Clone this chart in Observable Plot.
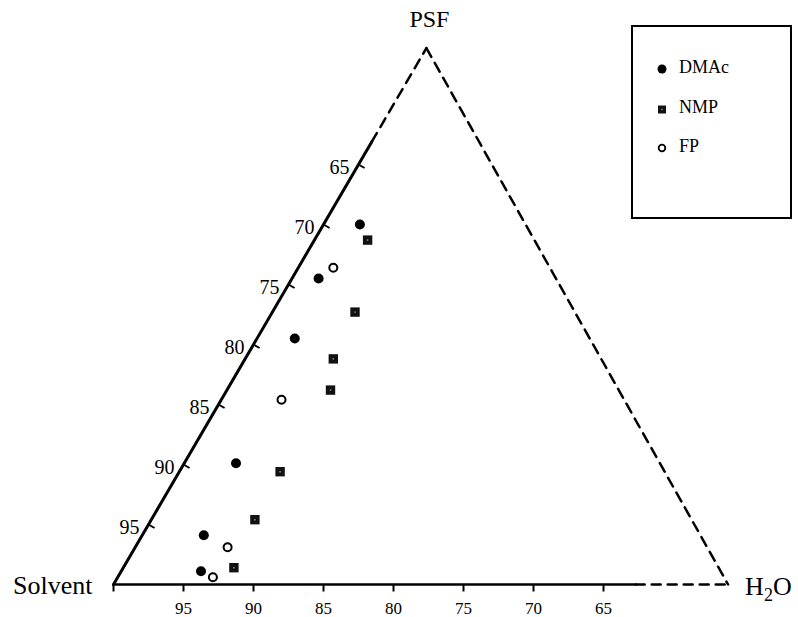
<!DOCTYPE html>
<html><head><meta charset="utf-8">
<script src="https://cdn.jsdelivr.net/npm/d3@7"></script>
<script src="https://cdn.jsdelivr.net/npm/@observablehq/plot@0.6"></script>
<style>
body{margin:0;background:#fff;}
#wrap{position:relative;width:798px;height:617px;font-family:"Liberation Serif",serif;}
#legend{position:absolute;left:631px;top:25px;width:161px;height:194px;box-sizing:border-box;border:2px solid #000;background:#fff;}
.item{position:absolute;left:0;height:20px;display:flex;align-items:center;font-size:18px;}
.item svg{position:absolute;left:19px;top:0;}
.item span{position:absolute;left:46px;top:-2px;white-space:nowrap;}
</style></head><body><div id="wrap"></div>
<script>
// Composition data (% PSF, % H2O; solvent = rest)
const seriesNames = ["DMAc", "NMP", "FP"];
const dmacPSF = [30.0, 25.5, 20.5, 10.1, 4.1, 1.1];
const dmacH2O = [2.6, 1.9, 2.7, 3.7, 4.4, 5.7];
const nmpPSF = [28.7, 22.7, 18.8, 16.2, 9.4, 5.4, 1.4];
const nmpH2O = [3.8, 5.9, 6.3, 7.4, 7.2, 7.4, 7.9];
const fpPSF = [26.4, 15.4, 3.1, 0.6];
const fpH2O = [2.5, 4.3, 6.6, 6.8];
// Axis ticks (solvent %)
const solventTicks = [95, 90, 85, 80, 75, 70, 65];
// Corners of the drawn region
const vertexNames = ["Solvent", "PSF", "H2O"];
const vertexPSF = [0, 44.7, 0];
const vertexH2O = [0, 0, 43.9];
const solidEndPSF = 36.9;   // left edge solid part ends here
const solidEndH2O = 37.3;   // bottom edge solid part ends here

const S3 = Math.sqrt(3) / 2;
const X = d => d.h2o + d.psf / 2;
const Y = d => d.psf * S3;
const comp = (psf, h2o) => ({psf, h2o});

const V = vertexNames.map((n, i) => ({name: n, psf: vertexPSF[i], h2o: vertexH2O[i]}));
const points = [
  ...dmacPSF.map((p, i) => ({series: "DMAc", psf: p, h2o: dmacH2O[i]})),
  ...nmpPSF.map((p, i) => ({series: "NMP", psf: p, h2o: nmpH2O[i]})),
  ...fpPSF.map((p, i) => ({series: "FP", psf: p, h2o: fpH2O[i]}))
];
const leftTicks = solventTicks.map(s => ({label: String(s), psf: 100 - s, h2o: 0}));
const bottomTicks = [100, ...solventTicks].map(s => ({label: s === 100 ? "" : String(s), psf: 0, h2o: 100 - s}));

const W = 798, H = 617, ox = 113, oy = 584, kx = 14, ky = 12.0 / S3;
const tl = 7; // tick length px

const plot = Plot.plot({
  width: W, height: H,
  x: {domain: [-ox / kx, (W - ox) / kx], range: [0, W], axis: null},
  y: {domain: [(oy - H) / ky, oy / ky], range: [H, 0], axis: null},
  style: {fontFamily: "Liberation Serif, serif", background: "#fff", color: "#000"},
  marks: [
    Plot.line([V[0], comp(solidEndPSF, 0)], {x: X, y: Y, stroke: "#000", strokeWidth: 3}),
    Plot.line([comp(solidEndPSF, 0), V[1]], {x: X, y: Y, stroke: "#000", strokeWidth: 2.5, strokeDasharray: "10,7"}),
    Plot.line([V[1], V[2]], {x: X, y: Y, stroke: "#000", strokeWidth: 2.5, strokeDasharray: "10,7"}),
    Plot.line([V[0], comp(0, solidEndH2O)], {x: X, y: Y, stroke: "#000", strokeWidth: 2.5}),
    Plot.line([comp(0, solidEndH2O), V[2]], {x: X, y: Y, stroke: "#000", strokeWidth: 2.5, strokeDasharray: "9,7"}),
    // left ticks (perpendicular, inward)
    Plot.link(leftTicks, {x1: X, y1: Y, x2: d => X(d) + tl * S3 / kx, y2: d => Y(d) - tl * 0.5 / ky, stroke: "#000", strokeWidth: 2}),
    Plot.text(leftTicks, {x: X, y: Y, text: "label", textAnchor: "end", dx: -9, dy: 3, fontSize: 20}),
    // bottom ticks
    Plot.link(bottomTicks, {x1: X, y1: Y, x2: X, y2: d => Y(d) - tl / ky, stroke: "#000", strokeWidth: 2}),
    Plot.text(bottomTicks, {x: X, y: Y, text: "label", dy: 24, fontSize: 17}),
    // vertex labels
    Plot.text([V[0]], {x: X, y: Y, text: "name", textAnchor: "end", dx: -21, dy: 1, fontSize: 26}),
    Plot.text([V[1]], {x: X, y: Y, text: "name", dx: 3, dy: -29, fontSize: 24}),
    Plot.text([V[2]], {x: X, y: Y, text: "name", textAnchor: "start", dx: 17, dy: 2, fontSize: 26}),
    // data
    Plot.dot(points.filter(d => d.series === "DMAc"), {x: X, y: Y, r: 5, fill: "#000", stroke: "none"}),
    Plot.dot(points.filter(d => d.series === "NMP"), {x: X, y: Y, r: 5.3, symbol: "square", fill: "#111", stroke: "none"}),
    Plot.dot(points.filter(d => d.series === "NMP"), {x: X, y: Y, r: 0.8, symbol: "square", fill: "#999", stroke: "none"}),
    Plot.dot(points.filter(d => d.series === "FP"), {x: X, y: Y, r: 4, fill: "#fff", stroke: "#000", strokeWidth: 2})
  ]
});

// subscript in H2O
plot.querySelectorAll("text").forEach(t => {
  if (t.textContent === "H2O") {
    t.textContent = "";
    const ns = "http://www.w3.org/2000/svg";
    const a = document.createElementNS(ns, "tspan"); a.textContent = "H";
    const b = document.createElementNS(ns, "tspan"); b.textContent = "2"; b.setAttribute("dy", "6"); b.setAttribute("font-size", "18");
    const c = document.createElementNS(ns, "tspan"); c.textContent = "O"; c.setAttribute("dy", "-6");
    t.append(a, b, c);
  }
});

const wrap = document.getElementById("wrap");
wrap.appendChild(plot);

// legend
const legend = document.createElement("div");
legend.id = "legend";
const rowTop = [32, 72, 111];
seriesNames.forEach((name, i) => {
  const it = document.createElement("div");
  it.className = "item";
  it.style.top = rowTop[i] + "px";
  let m;
  if (name === "DMAc") m = '<circle cx="10" cy="10" r="4.5" fill="#000"/>';
  else if (name === "NMP") m = '<rect x="6" y="6.5" width="8" height="8" fill="#111"/><rect x="9.3" y="9.8" width="1.4" height="1.4" fill="#999"/>';
  else m = '<circle cx="10" cy="10" r="3.3" fill="#fff" stroke="#000" stroke-width="1.8"/>';
  it.innerHTML = `<svg width="20" height="20">${m}</svg><span>${name}</span>`;
  legend.appendChild(it);
});
wrap.appendChild(legend);
</script></body></html>
